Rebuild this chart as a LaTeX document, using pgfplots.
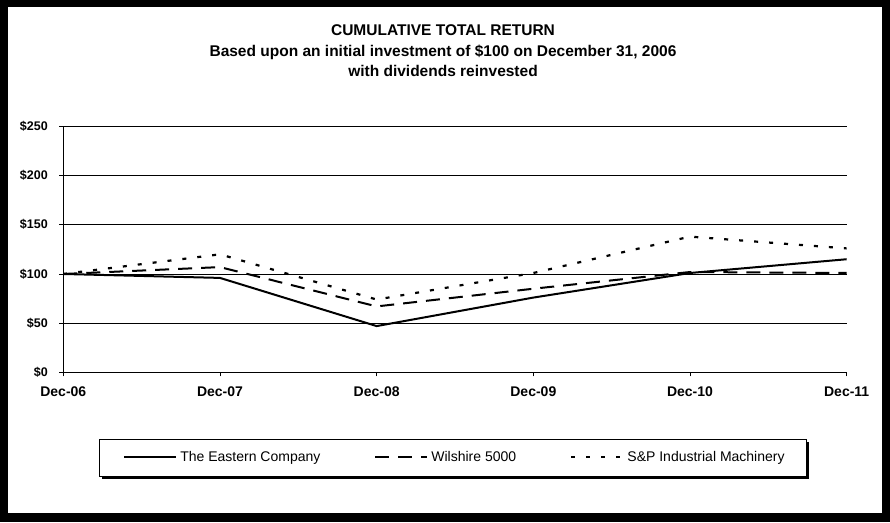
\documentclass[border=0pt]{standalone}
\usepackage{fontspec}
\setmainfont{Liberation Sans}
\usepackage{pgfplots}
\pgfplotsset{compat=1.18}

\pgfplotstableread{
x eastern wilshire sp
0 100 100 100
1 96  107 120
2 47  67  74
3 76  85  101
4 101 102 138
5 115 101 126
}\returns

\begin{document}
\begin{tikzpicture}[x=1pt,y=1pt]
% frame
\fill[black] (0,0) rectangle (890,522);
\fill[white] (8,9) rectangle (882,515);
\node[align=center,font=\bfseries\fontsize{15.5}{20.5}\selectfont] at (443,471) {CUMULATIVE TOTAL RETURN\\Based upon an initial investment of \$100 on December 31, 2006\\with dividends reinvested};
% legend box with shadow
\fill[black] (102,43) rectangle (809,46);
\fill[black] (806,43) rectangle (809,80);
\draw[black, line width=0.8pt] (99,46) rectangle (806,83);
\begin{axis}[
  scale only axis,
  width=783.4pt, height=245.8pt,
  at={(63.3pt,149.7pt)}, anchor=south west,
  xmin=0, xmax=5, ymin=0, ymax=250,
  xtick={0,...,5},
  xticklabels={Dec-06,Dec-07,Dec-08,Dec-09,Dec-10,Dec-11},
  ytick={0,50,...,250},
  yticklabel={\$\pgfmathprintnumber{\tick}},
  /pgf/number format/assume math mode=true,
  axis x line=bottom, axis y line=left,
  axis line style={-, black, line width=0.9pt},
  ymajorgrids, major grid style={black, line width=0.9pt},
  tick style={black, line width=0.9pt},
  tick align=outside, major tick length=4pt,
  x tick label style={font=\bfseries\fontsize{14}{16}\selectfont, yshift=-7pt},
  y tick label style={font=\bfseries\fontsize{12.5}{14}\selectfont, xshift=-8pt},
  legend columns=3,
  legend cell align=left,
  legend image code/.code={\draw[#1] (0pt,0pt) -- (52pt,0pt);},
  legend style={
    at={(0.4987,-0.3446)}, anchor=center,
    draw=none, fill=none,
    font=\fontsize{14}{16}\selectfont,
    nodes={inner sep=0pt},
    /tikz/every odd column/.append style={column sep=3pt},
    /tikz/every even column/.append style={column sep=54pt},
  },
]
\addplot[black, line width=2pt] table[x=x, y=eastern] {\returns};
\addlegendentry{The Eastern Company}
\addplot[black, line width=2pt, dash pattern=on 14pt off 9pt] table[x=x, y=wilshire] {\returns};
\addlegendentry{Wilshire 5000}
\addplot[black, line width=2.2pt, dash pattern=on 4pt off 11pt] table[x=x, y=sp] {\returns};
\addlegendentry{S\&P Industrial Machinery}
\end{axis}
\end{tikzpicture}
\end{document}
